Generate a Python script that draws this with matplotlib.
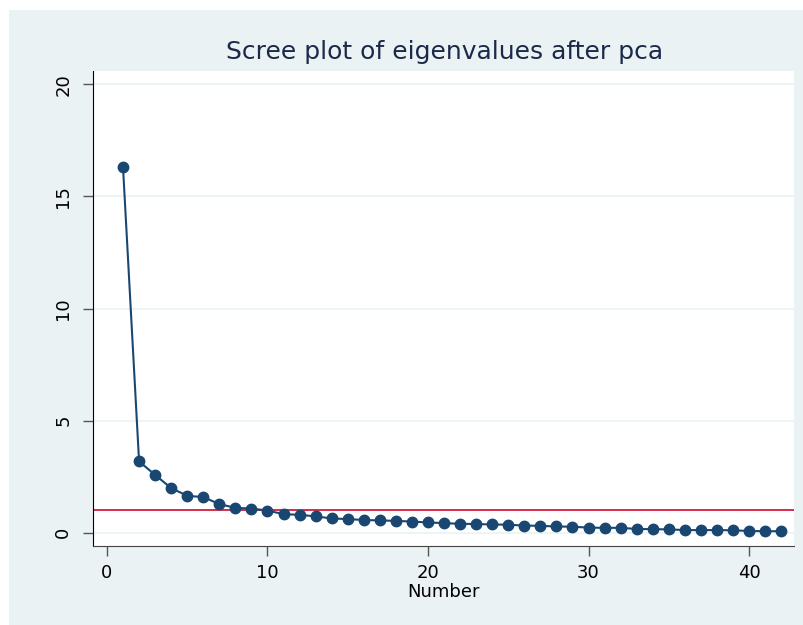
import matplotlib
matplotlib.use("Agg")
import matplotlib.pyplot as plt
from matplotlib.patches import Rectangle
import numpy as np

# eigenvalues
number = np.arange(1, 43)
eigenvalues = [16.30, 3.18, 2.58, 1.99, 1.65, 1.59, 1.28, 1.11, 1.08, 0.99,
               0.83, 0.80, 0.73, 0.64, 0.61, 0.57, 0.55, 0.53, 0.50, 0.46,
               0.43, 0.40, 0.39, 0.37, 0.36, 0.32, 0.31, 0.28, 0.27, 0.23,
               0.22, 0.22, 0.17, 0.16, 0.15, 0.12, 0.12, 0.12, 0.11, 0.08,
               0.07, 0.07]
cutoff = 1
xticks = [0, 10, 20, 30, 40]
yticks = [0, 5, 10, 15, 20]

bg = "#eaf2f3"
navy = "#1a4771"

fig = plt.figure(figsize=(8.04, 6.25), dpi=100, facecolor="white")
fig.patches.append(Rectangle((9 / 804, 0), 1, 1 - 10 / 625,
                             transform=fig.transFigure, facecolor=bg,
                             edgecolor="none", zorder=-10))

ax = fig.add_axes([93 / 804, 1 - 546 / 625, (794 - 93) / 804, (546 - 71) / 625])
ax.set_facecolor("white")

for y in yticks:
    ax.axhline(y, color=bg, lw=1.2, zorder=0)

ax.axhline(cutoff, color="#d01c3d", lw=1.3, zorder=1)
ax.plot(number, eigenvalues, color=navy, lw=1.5, marker="o", ms=7.5,
        markerfacecolor=navy, markeredgecolor=navy, zorder=2)

ax.set_xlim(-0.87, 42.8)
ax.set_ylim(-0.59, 20.59)
ax.set_xticks(xticks)
ax.set_yticks(yticks)
ax.set_xticklabels([str(v) for v in xticks], fontsize=13)
ax.set_yticklabels([str(v) for v in yticks], fontsize=13, rotation=90, va="center")
ax.tick_params(axis="both", direction="out", length=7, width=1, color="#555555", pad=6)
ax.tick_params(axis="y", pad=8)

ax.spines["top"].set_visible(False)
ax.spines["right"].set_visible(False)
ax.spines["left"].set_color("black")
ax.spines["bottom"].set_color("#444444")

ax.set_xlabel("Number", fontsize=13, labelpad=1)
fig.text(0.553, 1 - 52 / 625, "Scree plot of eigenvalues after pca",
         ha="center", va="center", fontsize=18, color="#1c2a4a")

fig.savefig("out.png", dpi=100, facecolor=fig.get_facecolor())
